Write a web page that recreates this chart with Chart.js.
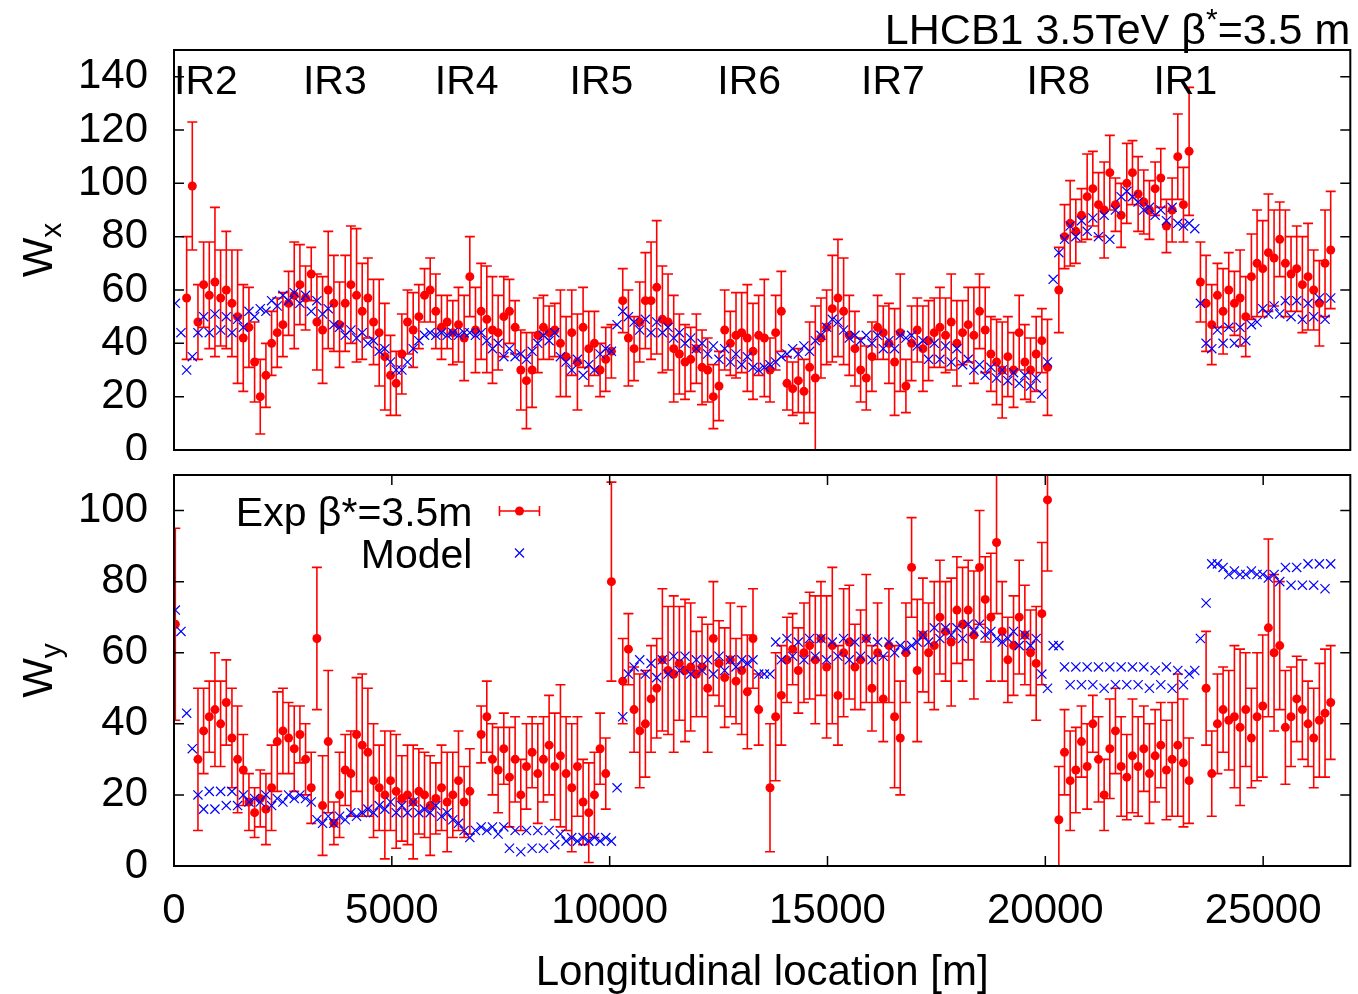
<!DOCTYPE html>
<html>
<head>
<meta charset="utf-8">
<script src="https://cdn.jsdelivr.net/npm/chart.js@4.4.1/dist/chart.umd.min.js"></script>
<style>
  html, body { margin: 0; padding: 0; background: #fff; }
  #wrap { position: relative; width: 1358px; height: 994px; }
  canvas { position: absolute; left: 0; }
  #cTop { top: 0; }
  #cBot { top: 460px; }
</style>
</head>
<body>
<div id="wrap">
  <canvas id="cTop" width="1358" height="460" style="width:1358px;height:460px"></canvas>
  <canvas id="cBot" width="1358" height="534" style="width:1358px;height:534px"></canvas>
</div>
<script>
// BPM longitudinal positions [m]
const sPos = [
  30, 160, 290, 420, 550, 680, 810, 940, 1070, 1200,
  1330, 1460, 1590, 1720, 1850, 1980, 2110, 2240, 2370, 2500,
  2630, 2760, 2890, 3020, 3150, 3280, 3410, 3540, 3670, 3800,
  3930, 4060, 4190, 4320, 4450, 4580, 4710, 4840, 4970, 5100,
  5230, 5360, 5490, 5620, 5750, 5880, 6010, 6140, 6270, 6400,
  6530, 6660, 6790, 6920, 7050, 7180, 7310, 7440, 7570, 7700,
  7830, 7960, 8090, 8220, 8350, 8480, 8610, 8740, 8870, 9000,
  9130, 9260, 9390, 9520, 9650, 9780, 9910, 10040, 10170, 10300,
  10430, 10560, 10690, 10820, 10950, 11080, 11210, 11340, 11470, 11600,
  11730, 11860, 11990, 12120, 12250, 12380, 12510, 12640, 12770, 12900,
  13030, 13160, 13290, 13420, 13550, 13680, 13810, 13940, 14070, 14200,
  14330, 14460, 14590, 14720, 14850, 14980, 15110, 15240, 15370, 15500,
  15630, 15760, 15890, 16020, 16150, 16280, 16410, 16540, 16670, 16800,
  16930, 17060, 17190, 17320, 17450, 17580, 17710, 17840, 17970, 18100,
  18230, 18360, 18490, 18620, 18750, 18880, 19010, 19140, 19270, 19400,
  19530, 19660, 19790, 19920, 20050, 20180, 20310, 20440, 20570, 20700,
  20830, 20960, 21090, 21220, 21350, 21480, 21610, 21740, 21870, 22000,
  22130, 22260, 22390, 22520, 22650, 22780, 22910, 23040, 23170, 23300,
  23430, 23560, 23690, 23820, 23950, 24080, 24210, 24340, 24470, 24600,
  24730, 24860, 24990, 25120, 25250, 25380, 25510, 25640, 25770, 25900,
  26030, 26160, 26290, 26420, 26550
];

// horizontal: measured W and its error, model W
const wxExp = [
  null, null, 57, 99, 48, 62, 58, 63, 57, 60,
  55, 50, 42, 46, 33, 20, 28, 40, 44, 47,
  55, 58, 62, 57, 66, 48, 45, 60, 55, 47,
  55, 62, 58, 52, 57, 48, 44, 35, 28, 25,
  36, 48, 45, 50, 58, 60, 52, 46, 48, 44,
  47, 42, 65, 45, 52, 49, 45, 44, 50, 52,
  46, 30, 26, 30, 43, 46, 44, 45, 40, 35,
  44, 33, 46, 38, 40, 30, 34, 37, null, 56,
  42, 38, 48, 56, 56, 61, 49, 48, 38, 36,
  33, 34, 38, 31, 30, 20, 24, 45, 40, 43,
  44, 42, 37, 43, 42, 30, 44, 52, 25, 23,
  26, 22, 31, 27, 42, 46, 53, 57, 52, 43,
  38, 30, 27, 35, 46, 44, 40, 33, 44, 24,
  40, 45, 38, 41, 44, 46, 43, 48, 40, 44,
  47, 43, 52, 45, 36, 33, 30, 35, 30, 44,
  33, 30, 36, 41, 31, null, 60, 80, 85, 82,
  88, 95, 98, 92, 90, 104, 92, 88, 100, 104,
  96, 93, 90, 98, 102, 84, 90, 110, 92, 112,
  null, 63, 55, 47, 58, 52, 60, 55, 57, 50,
  65, 70, 68, 74, 72, 79, 70, 66, 68, 62,
  65, 60, 55, 70, 75
];
const wxErr = [
  0, 0, 23, 24, 14, 16, 20, 28, 18, 22,
  20, 25, 20, 15, 15, 14, 12, 12, 13, 12,
  12, 20, 15, 12, 10, 18, 20, 22, 18, 16,
  18, 22, 25, 18, 15, 16, 20, 20, 15, 12,
  15, 12, 14, 12, 10, 12, 14, 12, 10, 12,
  14, 16, 15, 16, 18, 20, 20, 14, 15, 12,
  10, 15, 18, 14, 14, 12, 10, 10, 20, 15,
  16, 18, 15, 14, 12, 10, 12, 10, 0, 12,
  18, 12, 15, 18, 22, 25, 20, 18, 20, 15,
  14, 12, 13, 14, 12, 12, 13, 15, 12, 16,
  15, 20, 18, 15, 22, 12, 14, 15, 10, 10,
  12, 12, 17, 27, 15, 14, 20, 22, 20, 15,
  14, 12, 12, 13, 12, 10, 15, 20, 22, 10,
  14, 12, 16, 15, 13, 15, 14, 18, 16, 12,
  14, 18, 14, 16, 14, 16, 18, 15, 14, 14,
  14, 12, 14, 12, 18, 0, 16, 12, 16, 12,
  10, 16, 14, 12, 18, 14, 10, 12, 15, 12,
  14, 12, 11, 10, 11, 10, 12, 16, 14, 24,
  0, 15, 18, 15, 12, 16, 14, 12, 18, 15,
  16, 20, 18, 22, 18, 14, 20, 14, 16, 18,
  20, 15, 16, 20, 22
];
const wxModel = [
  55, 44, 30, 35, 44, 50, 44, 51, 45, 50,
  44, 49, 46, 52, 50, 53, 52, 56, 54, 58,
  56, 59, 55, 58, 52, 56, 51, 53, 47, 46,
  43, 45, 42, 44, 40, 41, 37, 38, 33, 30,
  30, 33, 38, 41, 43, 44, 43, 44, 43, 44,
  43, 44, 44, 43, 44, 41, 38, 40, 35, 38,
  35, 36, 34, 37, 40, 43, 41, 44, 35, 33,
  30, 34, 28, 32, 30, 36, 38, 37, 47, 52,
  50, 48, 45, 49, 44, 48, 44, 46, 42, 44,
  40, 42, 38, 40, 36, 39, 34, 38, 33, 36,
  32, 35, 31, 30, 31, 32, 33, 35, 36, 38,
  36, 39, 37, 41, 43, 46, 49, 48, 45, 42,
  43, 41, 43, 40, 43, 38, 41, 38, 43, 42,
  43, 39, 41, 34, 40, 34, 39, 33, 38, 32,
  34, 30, 32, 28, 31, 27, 30, 26, 29, 25,
  28, 24, 27, 21, 33, 64, 74, 79, 84, 80,
  86, 82, 87, 80, 88, 79, 90, 95, 97, 95,
  93, 90, 91, 88, 90, 86, 91, 85, 84, 85,
  83, 55, 40, 38, 45, 40, 46, 40, 46, 41,
  47, 48, 53, 51, 54, 51, 56, 50, 56, 49,
  55, 50, 57, 49, 57
];

// vertical
const wyExp = [
  68, null, null, null, 30, 38, 42, 44, 40, 46,
  36, 30, 27, 18, 15, 19, 16, 22, 35, 38,
  36, 33, 37, 30, 22, 64, 17, 35, 12, 20,
  27, 26, 37, 34, 32, 24, 22, 20, 24, 21,
  19, 20, 18, 21, 20, 17, 19, 22, 18, 20,
  24, 18, 21, null, 37, 42, 30, 27, 33, 25,
  30, 20, 28, 32, 26, 30, 34, 28, 31, 26,
  22, 28, 18, 15, 20, 33, 26, 80, null, 52,
  61, 44, 38, 40, 47, 50, 58, 55, 54, 57,
  55, 56, 54, 56, 50, 64, 57, 53, 58, 52,
  55, 49, 64, 44, null, 22, 42, 48, 58, 61,
  55, 60, 62, 58, 64, 56, 62, 48, 60, 63,
  56, 58, 64, 50, 60, 47, 62, 42, 36, 60,
  84, 55, 65, 60, 62, 70, 66, 63, 72, 68,
  72, 65, 84, 75, 70, 91, 66, 58, 62, 70,
  65, 60, 57, 71, 103, null, 13, 32, 24, 27,
  35, 28, 40, 30, 20, 33, 38, 28, 25, 31,
  28, 33, 26, 31, 34, 27, 30, 34, 29, 24,
  null, null, 50, 26, 40, 44, 41, 42, 39, 44,
  36, 42, 45, 67, 60, 62, 39, 42, 47, 44,
  40, 36, 41, 43, 46
];
const wyErr = [
  27, 0, 0, 0, 20, 12, 10, 16, 12, 12,
  14, 15, 10, 8, 7, 8, 10, 12, 14, 12,
  10, 12, 8, 10, 10, 20, 14, 20, 6, 12,
  10, 12, 16, 20, 18, 16, 12, 18, 14, 16,
  12, 14, 16, 12, 12, 14, 10, 12, 14, 12,
  14, 10, 12, 0, 8, 10, 10, 12, 10, 14,
  12, 10, 12, 10, 14, 12, 14, 15, 20, 16,
  18, 14, 12, 14, 12, 10, 10, 28, 0, 12,
  10, 12, 16, 15, 15, 14, 20, 18, 22, 16,
  20, 18, 12, 14, 18, 16, 12, 14, 16, 12,
  18, 16, 14, 10, 0, 18, 18, 14, 12, 10,
  12, 14, 15, 18, 16, 20, 22, 14, 18, 16,
  12, 14, 18, 12, 14, 12, 16, 20, 16, 14,
  14, 20, 16, 14, 18, 16, 14, 18, 15, 16,
  14, 18, 16, 12, 18, 20, 14, 12, 14, 16,
  14, 12, 16, 20, 20, 0, 15, 12, 14, 12,
  10, 12, 8, 12, 10, 14, 12, 14, 12, 16,
  14, 12, 14, 13, 12, 14, 16, 20, 18, 12,
  0, 0, 16, 12, 14, 12, 14, 20, 22, 16,
  14, 18, 20, 25, 22, 18, 16, 14, 12, 14,
  12, 14, 16, 18, 16
];
const wyModel = [
  72, 66, 43, 33, 20, 16, 21, 16, 21, 17,
  21, 17, 20, 18, 19, 18, 20, 17, 19, 18,
  20, 19, 20, 19, 18, 13, 12, 14, 12, 14,
  13, 15, 14, 15, 16, 15, 17, 16, 18, 15,
  17, 15, 18, 15, 16, 15, 17, 14, 15, 13,
  12, 10, 8, 10, 11, 10, 11, 9, 11, 5,
  10, 4, 10, 5, 10, 5, 10, 6, 9, 7,
  8, 7, 8, 7, 8, 7, 8, 7, 22, 42,
  54, 56, 58, 54, 57, 53, 58, 54, 59, 55,
  59, 54, 58, 55, 58, 54, 59, 55, 58, 56,
  58, 57, 58, 54, 54, 54, 63, 58, 64, 59,
  63, 58, 64, 59, 64, 58, 63, 59, 64, 58,
  63, 59, 64, 58, 63, 59, 63, 60, 62, 61,
  62, 63, 65, 63, 67, 64, 67, 65, 67, 64,
  68, 66, 68, 65, 66, 64, 63, 64, 66, 62,
  65, 62, 64, 54, 50, 62, 62, 56, 51, 56,
  51, 56, 51, 56, 50, 56, 51, 56, 51, 56,
  51, 56, 50, 55, 51, 56, 50, 55, 51, 54,
  55, 64, 74, 85, 85, 84, 82, 83, 82, 82,
  83, 82, 82, 81, 82, 80, 84, 79, 84, 79,
  85, 79, 85, 78, 85
];

const xTicks = [0, 5000, 10000, 15000, 20000, 25000];
const wxTicks = [0, 20, 40, 60, 80, 100, 120, 140];
const wyTicks = [0, 20, 40, 60, 80, 100];

const irNames = ['IR2', 'IR3', 'IR4', 'IR5', 'IR6', 'IR7', 'IR8', 'IR1'];
const irPos = [0, 2960, 5985, 9080, 12470, 15770, 19570, 22480];

const FONT = "'Liberation Sans', Arial, Helvetica, sans-serif";
Chart.defaults.font.family = FONT;
Chart.defaults.color = '#000';

const RED = '#ff0000';
const BLUE = '#0000ff';

function modelPts(ys) {
  return sPos.map((x, i) => ({ x: x, y: ys[i] })).filter(p => p.y !== null);
}
function expPts(ys, es) {
  return sPos.map((x, i) => ({ x: x, y: ys[i], e: es[i] })).filter(p => p.y !== null);
}

// vertical error bars with small caps, under the markers
const errorBars = {
  id: 'errorBars',
  beforeDatasetsDraw(chart) {
    const { ctx, chartArea: a, scales: { x, y } } = chart;
    const ds = chart.data.datasets.find(d => d.errBars);
    if (!ds) return;
    ctx.save();
    ctx.beginPath();
    ctx.rect(a.left, a.top, a.right - a.left, a.bottom - a.top);
    ctx.clip();
    ctx.strokeStyle = RED;
    ctx.lineWidth = 1.6;
    ctx.beginPath();
    ds.data.forEach(p => {
      const px = x.getPixelForValue(p.x);
      const y0 = y.getPixelForValue(p.y - p.e);
      const y1 = y.getPixelForValue(p.y + p.e);
      ctx.moveTo(px, y0); ctx.lineTo(px, y1);
      ctx.moveTo(px - 5, y0); ctx.lineTo(px + 5, y0);
      ctx.moveTo(px - 5, y1); ctx.lineTo(px + 5, y1);
    });
    ctx.stroke();
    ctx.restore();
  }
};

// gnuplot style box, inward ticks, axis label W with subscript, extra texts
const frame = {
  id: 'frame',
  afterDraw(chart, args, opts) {
    const { ctx, chartArea: a, scales: { x, y } } = chart;
    ctx.save();
    ctx.strokeStyle = '#000';
    ctx.lineWidth = 1.5;
    ctx.beginPath();
    y.ticks.forEach(t => {
      const py = y.getPixelForValue(t.value);
      ctx.moveTo(a.left, py); ctx.lineTo(a.left + 10, py);
      ctx.moveTo(a.right, py); ctx.lineTo(a.right - 10, py);
    });
    if (opts.xTicks) {
      xTicks.forEach(v => {
        const px = x.getPixelForValue(v);
        ctx.moveTo(px, a.top); ctx.lineTo(px, a.top + 10);
        ctx.moveTo(px, a.bottom); ctx.lineTo(px, a.bottom - 10);
      });
    }
    ctx.stroke();
    ctx.lineWidth = 2;
    ctx.strokeRect(a.left, a.top, a.right - a.left, a.bottom - a.top);

    // y axis label
    ctx.fillStyle = '#000';
    ctx.translate(52, (a.top + a.bottom) / 2);
    ctx.rotate(-Math.PI / 2);
    ctx.textBaseline = 'alphabetic';
    ctx.textAlign = 'left';
    ctx.font = '42px ' + FONT;
    const wW = ctx.measureText('W').width;
    ctx.font = '30px ' + FONT;
    const sW = ctx.measureText(opts.sub).width;
    const x0 = -(wW + sW) / 2;
    ctx.font = '42px ' + FONT;
    ctx.fillText('W', x0, 0);
    ctx.font = '30px ' + FONT;
    ctx.fillText(opts.sub, x0 + wW, 9);
    ctx.restore();

    if (opts.irLabels) {
      ctx.save();
      ctx.font = '41px ' + FONT;
      ctx.fillStyle = '#000';
      ctx.textBaseline = 'alphabetic';
      irNames.forEach((n, i) => {
        ctx.fillText(n, x.getPixelForValue(irPos[i]), y.getPixelForValue(133.5));
      });
      // title, right aligned above the box
      const p1 = 'LHCB1 3.5TeV \u03b2', p2 = '*', p3 = '=3.5 m';
      ctx.font = '43px ' + FONT;
      const w1 = ctx.measureText(p1).width, w3 = ctx.measureText(p3).width;
      ctx.font = '30px ' + FONT;
      const w2 = ctx.measureText(p2).width;
      const tx = a.right - (w1 + w2 + w3);
      ctx.font = '43px ' + FONT;
      ctx.fillText(p1, tx, 44);
      ctx.font = '30px ' + FONT;
      ctx.fillText(p2, tx + w1, 29);
      ctx.font = '43px ' + FONT;
      ctx.fillText(p3, tx + w1 + w2, 44);
      ctx.restore();
    }

    if (opts.legend) {
      ctx.save();
      ctx.font = '41px ' + FONT;
      ctx.fillStyle = '#000';
      ctx.textAlign = 'right';
      ctx.textBaseline = 'alphabetic';
      const lx = x.getPixelForValue(7930), ly1 = a.top + 36, ly2 = a.top + 78;
      ctx.fillText('Exp \u03b2*=3.5m', lx - 47, ly1 + 15);
      ctx.fillText('Model', lx - 47, ly2 + 15);
      ctx.strokeStyle = RED;
      ctx.lineWidth = 1.6;
      ctx.beginPath();
      ctx.moveTo(lx - 20, ly1); ctx.lineTo(lx + 20, ly1);
      ctx.moveTo(lx - 20, ly1 - 5); ctx.lineTo(lx - 20, ly1 + 5);
      ctx.moveTo(lx + 20, ly1 - 5); ctx.lineTo(lx + 20, ly1 + 5);
      ctx.stroke();
      ctx.fillStyle = RED;
      ctx.beginPath();
      ctx.arc(lx, ly1, 4.5, 0, Math.PI * 2);
      ctx.fill();
      ctx.strokeStyle = BLUE;
      ctx.lineWidth = 1.2;
      ctx.beginPath();
      ctx.moveTo(lx - 4.5, ly2 - 4.5); ctx.lineTo(lx + 4.5, ly2 + 4.5);
      ctx.moveTo(lx - 4.5, ly2 + 4.5); ctx.lineTo(lx + 4.5, ly2 - 4.5);
      ctx.stroke();
      ctx.restore();
    }
  }
};

function yAxis(max, ticks) {
  return {
    type: 'linear',
    min: 0,
    max: max,
    afterBuildTicks: s => { s.ticks = ticks.map(v => ({ value: v })); },
    afterFit: s => { s.width = 174; s.paddingTop = 0; s.paddingBottom = 0; },
    grid: { display: false, drawTicks: false },
    border: { display: false },
    ticks: { padding: 26, font: { size: 42 }, color: '#000' }
  };
}

function datasets(exp, err, model) {
  return [
    {
      label: 'Model',
      data: modelPts(model),
      pointStyle: 'crossRot',
      pointRadius: 6.5,
      pointHoverRadius: 6.5,
      borderColor: BLUE,
      backgroundColor: BLUE,
      borderWidth: 1.2
    },
    {
      label: 'Exp',
      data: expPts(exp, err),
      errBars: true,
      pointStyle: 'circle',
      pointRadius: 4.5,
      pointHoverRadius: 4.5,
      borderWidth: 0,
      borderColor: RED,
      backgroundColor: RED
    }
  ];
}

new Chart(document.getElementById('cTop'), {
  type: 'scatter',
  data: { datasets: datasets(wxExp, wxErr, wxModel) },
  options: {
    responsive: false,
    animation: false,
    layout: { padding: { top: 50, bottom: 10, left: 0, right: 6 } },
    plugins: {
      legend: { display: false },
      tooltip: { enabled: false },
      frame: { sub: 'x', xTicks: false, irLabels: true }
    },
    scales: {
      x: { type: 'linear', display: false, min: 0, max: 27000 },
      y: yAxis(150, wxTicks)
    }
  },
  plugins: [errorBars, frame]
});

new Chart(document.getElementById('cBot'), {
  type: 'scatter',
  data: { datasets: datasets(wyExp, wyErr, wyModel) },
  options: {
    responsive: false,
    animation: false,
    layout: { padding: { top: 15, bottom: 0, left: 0, right: 6 } },
    plugins: {
      legend: { display: false },
      tooltip: { enabled: false },
      frame: { sub: 'y', xTicks: true, legend: true }
    },
    scales: {
      x: {
        type: 'linear',
        min: 0,
        max: 27000,
        afterBuildTicks: s => { s.ticks = xTicks.map(v => ({ value: v })); },
        afterFit: s => { s.height = 128; s.paddingLeft = 0; s.paddingRight = 0; },
        grid: { display: false, drawTicks: false },
        border: { display: false },
        ticks: {
          padding: 20, font: { size: 42 }, color: '#000', maxRotation: 0, autoSkip: false,
          callback: v => String(v)
        },
        title: {
          display: true,
          text: 'Longitudinal location [m]',
          font: { size: 42, lineHeight: 1 },
          color: '#000',
          padding: { top: 0, bottom: 0 }
        }
      },
      y: yAxis(110, wyTicks)
    }
  },
  plugins: [errorBars, frame]
});
</script>
</body>
</html>
